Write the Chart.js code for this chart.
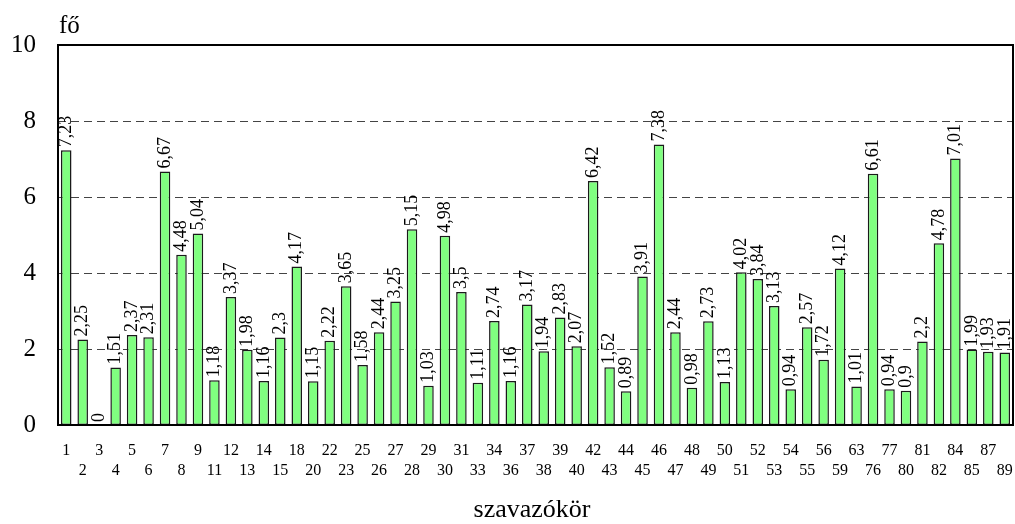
<!DOCTYPE html>
<html>
<head>
<meta charset="utf-8">
<script src="https://cdn.jsdelivr.net/npm/chart.js@4"></script>
<style>
  html, body { margin: 0; padding: 0; background: #fff; }
  #wrap { width: 1015px; height: 524px; position: relative; }
</style>
</head>
<body>
<div id="wrap"><canvas id="chart"></canvas></div>
<script>
const districts = ['1', '2', '3', '4', '5', '6', '7', '8', '9', '11', '12', '13', '14', '15', '18', '20', '22', '23', '25', '26',
  '27', '28', '29', '30', '31', '33', '34', '36', '37', '38', '39', '40', '42', '43', '44', '45', '46', '47', '48', '49',
  '50', '51', '52', '53', '54', '55', '56', '59', '63', '76', '77', '80', '81', '82', '84', '85', '87', '89'];
const people = [7.23, 2.25, 0, 1.51, 2.37, 2.31, 6.67, 4.48, 5.04, 1.18, 3.37, 1.98, 1.16, 2.3, 4.17, 1.15, 2.22, 3.65, 1.58, 2.44,
  3.25, 5.15, 1.03, 4.98, 3.5, 1.11, 2.74, 1.16, 3.17, 1.94, 2.83, 2.07, 6.42, 1.52, 0.89, 3.91, 7.38, 2.44, 0.98, 2.73,
  1.13, 4.02, 3.84, 3.13, 0.94, 2.57, 1.72, 4.12, 1.01, 6.61, 0.94, 0.9, 2.2, 4.78, 7.01, 1.99, 1.93, 1.91];
const yTicks = [0, 2, 4, 6, 8, 10];

const serif = '"Liberation Serif", "Times New Roman", serif';

// alternate labels between two rows
const xLabels = districts.map((d, i) => i % 2 === 0 ? [d, ''] : ['', d]);

const fmt = v => String(v).replace('.', ',');

const extras = {
  id: 'extras',
  beforeDatasetsDraw(chart) {
    const { ctx, chartArea, scales } = chart;
    ctx.save();
    ctx.strokeStyle = '#444';
    ctx.lineWidth = 1;
    ctx.setLineDash([8, 5]);
    yTicks.forEach(t => {
      if (t === 0 || t === 10) return;
      const y = Math.round(scales.y.getPixelForValue(t)) + 0.5;
      ctx.beginPath();
      ctx.moveTo(chartArea.left, y);
      ctx.lineTo(chartArea.right, y);
      ctx.stroke();
    });
    ctx.restore();
  },
  afterDraw(chart) {
    const { ctx, chartArea } = chart;
    ctx.save();
    ctx.strokeStyle = '#000';
    ctx.lineWidth = 2;
    ctx.strokeRect(chartArea.left, chartArea.top, chartArea.right - chartArea.left, chartArea.bottom - chartArea.top);

    // value labels, rotated
    const meta = chart.getDatasetMeta(0);
    ctx.fillStyle = '#000';
    ctx.font = '18px ' + serif;
    ctx.textAlign = 'left';
    ctx.textBaseline = 'middle';
    meta.data.forEach((bar, i) => {
      ctx.save();
      ctx.translate(bar.x, bar.y - 3);
      ctx.rotate(-Math.PI / 2);
      ctx.fillText(fmt(people[i]), 0, 0);
      ctx.restore();
    });

    // unit and axis title
    ctx.font = '25px ' + serif;
    ctx.textBaseline = 'alphabetic';
    ctx.textAlign = 'left';
    ctx.fillText('fő', chartArea.left + 1, 33);
    ctx.textAlign = 'center';
    ctx.font = '26px ' + serif;
    ctx.fillText('szavazókör', 532, 517);
    ctx.restore();
  }
};

new Chart(document.getElementById('chart'), {
  type: 'bar',
  data: {
    labels: xLabels,
    datasets: [{
      data: people,
      backgroundColor: '#80FF80',
      borderColor: '#1a1a1a',
      borderWidth: 1.5,
      borderSkipped: false,
      categoryPercentage: 1,
      barPercentage: 0.64
    }]
  },
  options: {
    responsive: true,
    maintainAspectRatio: false,
    animation: false,
    layout: { padding: { top: 45, right: 2, left: 0, bottom: 0 } },
    plugins: { legend: { display: false }, tooltip: { enabled: false } },
    scales: {
      x: {
        afterFit(scale) {
          scale.height = 99;
          scale.paddingLeft = 0;
          scale.paddingRight = 0;
        },
        grid: { display: false, drawTicks: false },
        border: { display: false },
        ticks: {
          autoSkip: false,
          maxRotation: 0,
          minRotation: 0,
          padding: 16,
          color: '#000',
          font: { family: serif, size: 16, lineHeight: 1.25 }
        }
      },
      y: {
        min: 0,
        max: 10,
        afterFit(scale) {
          scale.width = 58;
          scale.paddingTop = 0;
          scale.paddingBottom = 0;
        },
        afterBuildTicks(scale) { scale.ticks = yTicks.map(v => ({ value: v })); },
        grid: { display: false, drawTicks: false },
        border: { display: false },
        ticks: {
          padding: 22,
          color: '#000',
          font: { family: serif, size: 25 }
        }
      }
    }
  },
  plugins: [extras]
});
</script>
</body>
</html>
